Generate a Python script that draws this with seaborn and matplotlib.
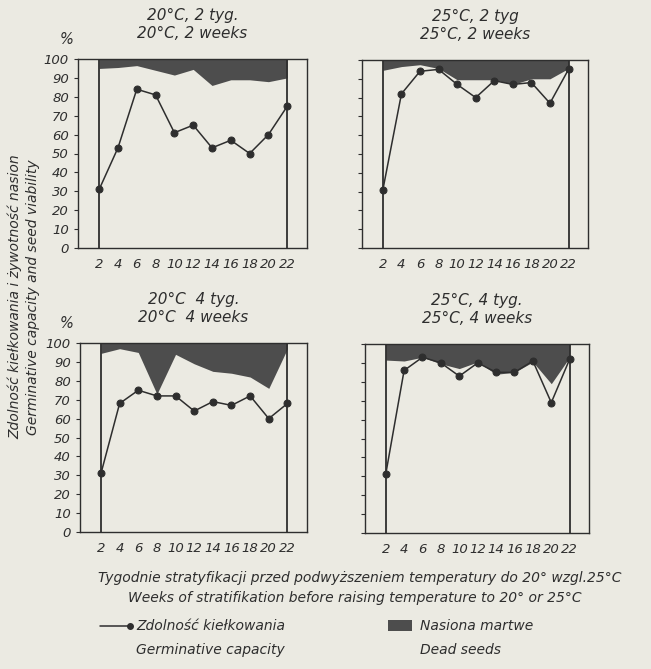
import numpy as np
import pandas as pd
import matplotlib.pyplot as plt
import seaborn as sns

# Dane (tygodnie stratyfikacji)
weeks = [2, 4, 6, 8, 10, 12, 14, 16, 18, 20, 22]

# zdolnosc kielkowania (%)
germ_20_2 = [31, 53, 84, 81, 61, 65, 53, 57, 50, 60, 75]
germ_25_2 = [31, 82, 94, 95, 87, 80, 89, 87, 88, 77, 95]
germ_20_4 = [31, 68, 75, 72, 72, 64, 69, 67, 72, 60, 68]
germ_25_4 = [31, 86, 93, 90, 83, 90, 85, 85, 91, 69, 92]

# zywotnosc nasion (%) - powyzej tej granicy nasiona martwe
viab_20_2 = [95, 95.5, 96.5, 94, 91.5, 94.5, 86, 89, 89, 88, 90]
viab_25_2 = [94.5, 96.5, 97.5, 95.5, 89.5, 89.5, 89.5, 87, 90, 90, 95.5]
viab_20_4 = [94.5, 97, 95, 73, 94, 89, 85, 84, 82, 76, 97]
viab_25_4 = [91.5, 91, 93, 89.5, 87, 90.5, 84, 85, 90.5, 79, 93]

titles = ["20°C, 2 tyg.\n20°C, 2 weeks", "25°C, 2 tyg\n25°C, 2 weeks",
          "20°C  4 tyg.\n20°C  4 weeks", "25°C, 4 tyg.\n25°C, 4 weeks"]

paper = "#ebeae2"
ink = "#2e2e2e"
dark = "#4d4d4d"

sns.set_style("ticks")
plt.rcParams["font.family"] = ["DejaVu Sans"]
plt.rcParams["font.style"] = "italic"

fig = plt.figure(figsize=(6.51, 6.69), dpi=100, facecolor=paper)
W, H = 651, 669

# pozycje paneli w pikselach: left, top, right, bottom
boxes = [(78, 59, 307, 248), (362, 60, 588, 248),
         (80, 343, 307, 532), (365, 344, 589, 533)]
germs = [germ_20_2, germ_25_2, germ_20_4, germ_25_4]
viabs = [viab_20_2, viab_25_2, viab_20_4, viab_25_4]

for i, (l, t, r, b) in enumerate(boxes):
    ax = fig.add_axes([l / W, 1 - b / H, (r - l) / W, (b - t) / H])
    ax.set_facecolor(paper)
    df = pd.DataFrame({"week": weeks, "germ": germs[i], "viab": viabs[i]})

    ax.fill_between(df["week"], df["viab"], 100, color=dark, lw=0, zorder=1)
    ax.vlines([2, 22], 0, 100, color=ink, lw=1.3, zorder=2)
    sns.lineplot(data=df, x="week", y="germ", ax=ax, color=ink, lw=1.1,
                 marker="o", markersize=5, markeredgecolor=ink, zorder=3)

    ax.set_xlim(-0.25, 24.1)
    ax.set_ylim(0, 100)
    ax.set_xticks(weeks)
    ax.set_xticklabels([str(w) for w in weeks], fontsize=9.5)
    ax.set_yticks(range(0, 101, 10))
    ax.tick_params(axis="x", length=0, pad=7, colors=ink)
    ax.tick_params(axis="y", length=3, width=0.8, colors=ink, labelsize=9.5)
    if i % 2 == 1:
        ax.set_yticklabels([])
    ax.set_xlabel("")
    ax.set_ylabel("")
    for s in ax.spines.values():
        s.set_color(ink)
        s.set_linewidth(1.0)
    ax.set_title(titles[i], fontsize=11, color=ink, pad=15, linespacing=1.3)

# znaki %
fig.text(60 / W, 1 - 44 / H, "%", fontsize=10.5, color=ink)
fig.text(60 / W, 1 - 328 / H, "%", fontsize=10.5, color=ink)

# opis osi y
fig.text(24 / W, 1 - 297 / H,
         "Zdolność kiełkowania i żywotność nasion\nGerminative capacity and seed viability",
         rotation=90, ha="center", va="center", fontsize=10, color=ink,
         linespacing=1.3)

# opis osi x
fig.text(360 / W, 1 - 578 / H,
         "Tygodnie stratyfikacji przed podwyższeniem temperatury do 20° wzgl.25°C",
         ha="center", va="center", fontsize=10, color=ink)
fig.text(355 / W, 1 - 598 / H,
         "Weeks of stratifikation before raising temperature to 20° or 25°C",
         ha="center", va="center", fontsize=10, color=ink)

# legenda
lax = fig.add_axes([0, 0, 1, 1], facecolor="none")
lax.set_xlim(0, W)
lax.set_ylim(H, 0)
lax.axis("off")
lax.plot([100, 130], [626, 626], color=ink, lw=1.1)
lax.plot([130], [626], "o", color=ink, markersize=4)
lax.text(136, 626, "Zdolność kiełkowania", va="center", fontsize=10, color=ink)
lax.text(136, 650, "Germinative capacity", va="center", fontsize=10, color=ink)
lax.fill_between([388, 412], 620, 631, color=dark, lw=0)
lax.text(420, 626, "Nasiona martwe", va="center", fontsize=10, color=ink)
lax.text(420, 650, "Dead seeds", va="center", fontsize=10, color=ink)

fig.savefig("out.png", dpi=100, facecolor=paper)
